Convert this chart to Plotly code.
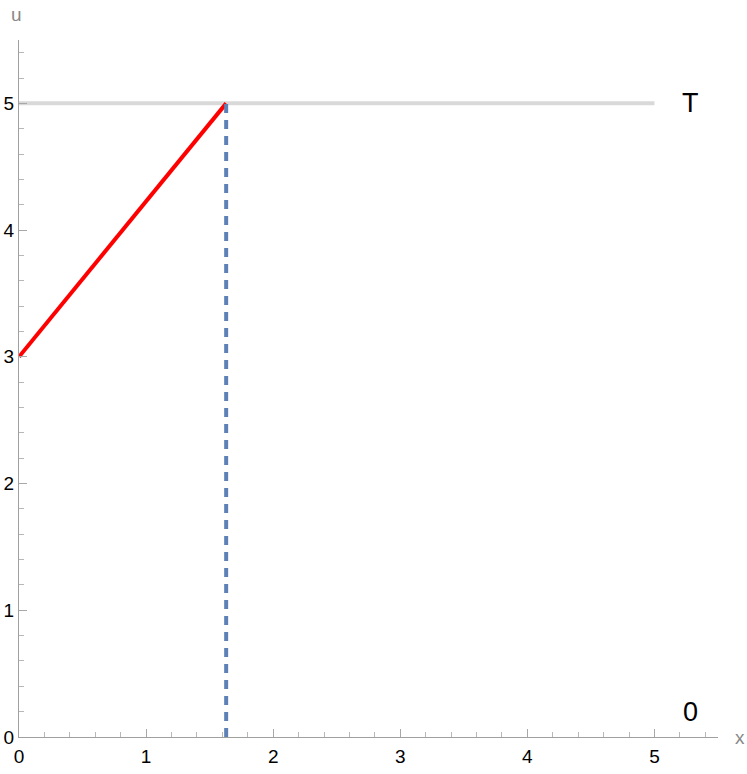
import plotly.graph_objects as go

# data
line_x = [0, 1.63]
line_u = [3, 5]
T_value = 5
T_x = [0, 5]
x_star = 1.63
dash_u = [0, 5]
label_x = 5.28
labels = ["T", "0"]
label_u = [5, 0.2]

fig = go.Figure()

fig.add_trace(go.Scatter(x=T_x, y=[T_value, T_value], mode="lines",
                         line=dict(color="#d9d9d9", width=4), hoverinfo="skip"))
fig.add_trace(go.Scatter(x=line_x, y=line_u, mode="lines",
                         line=dict(color="#ff0000", width=4), hoverinfo="skip"))
fig.add_trace(go.Scatter(x=[x_star, x_star], y=dash_u, mode="lines",
                         line=dict(color="#5e81b5", width=4, dash="9px,7px"), hoverinfo="skip"))

for t, yv in zip(labels, label_u):
    fig.add_annotation(x=label_x, y=yv, text=t, showarrow=False,
                       font=dict(size=27, color="black", family="Liberation Sans, Arial"),
                       xanchor="center", yanchor="middle")

axis_common = dict(
    showgrid=False, zeroline=False, showline=True, linecolor="#a0a0a0", linewidth=1,
    ticks="inside", ticklen=8, tickcolor="#a8a8a8", tickwidth=1,
    tickfont=dict(size=19, color="black", family="Liberation Sans, Arial"),
    minor=dict(ticks="inside", ticklen=5, tickcolor="#b8b8b8", dtick=0.2, showgrid=False),
    dtick=1, tick0=0, automargin=False,
)

fig.update_xaxes(range=[0, 5.5], ticklabelstandoff=2, **axis_common)
fig.update_yaxes(range=[0, 5.5], **axis_common)

fig.add_annotation(xref="paper", yref="paper", x=1.0, y=0, xshift=22, text="x",
                   showarrow=False, font=dict(size=19, color="#888888", family="Liberation Sans, Arial"),
                   xanchor="center", yanchor="middle")
fig.add_annotation(xref="paper", yref="paper", x=0, y=1.0, yshift=26, xshift=-3, text="u",
                   showarrow=False, font=dict(size=19, color="#888888", family="Liberation Sans, Arial"),
                   xanchor="center", yanchor="middle")

fig.update_layout(width=747, height=774, showlegend=False,
                  margin=dict(l=19, r=29, t=40, b=37),
                  plot_bgcolor="white", paper_bgcolor="white")

fig.write_html("out.html", config={"displayModeBar": False},
               post_script="document.body.style.margin='0';document.body.style.overflow='hidden';")
